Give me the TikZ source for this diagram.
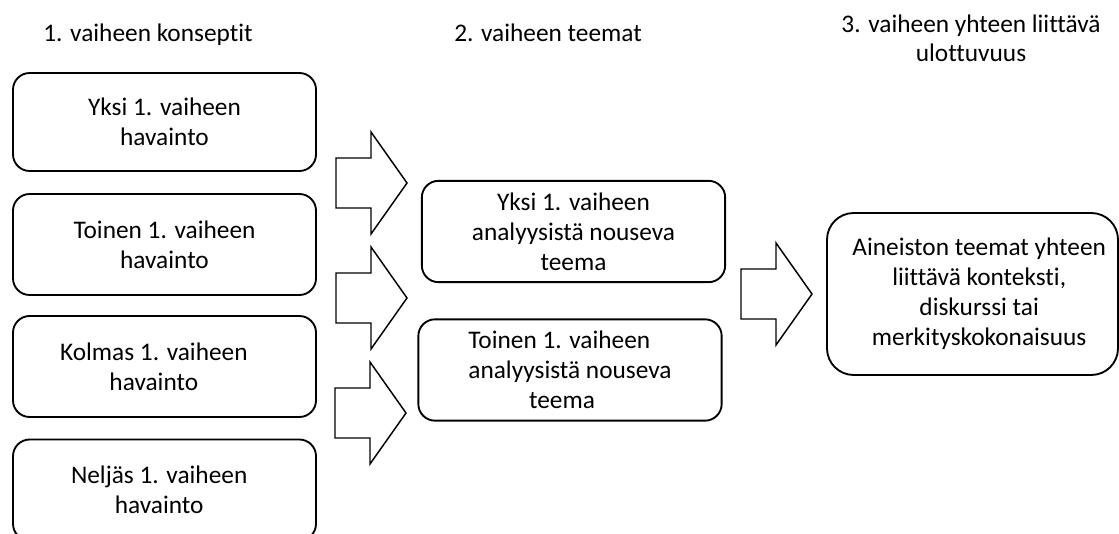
\documentclass[tikz,border=0pt]{standalone}
\usepackage{fontspec}
\setmainfont{Carlito}[Ligatures=NoCommon]
\begin{document}
\begin{tikzpicture}[x=0.75pt,y=-0.75pt,
  boxtext/.style={font=\fontsize{19}{22.5}\selectfont},
  headtext/.style={font=\fontsize{19}{21.75}\selectfont, align=center, inner sep=0pt},
  roundbox/.style={draw, line width=1.4pt, rounded corners=12.5pt, align=center, inner sep=0pt, boxtext},
  leftbox/.style={roundbox, minimum width=227.25pt, minimum height=75.75pt},
  midbox/.style={roundbox, minimum width=227.5pt, minimum height=76pt},
  arrowline/.style={draw, line width=1.1pt, line join=miter},
  blockarrow/.pic={\path[arrowline] (0,-25) -- (35,-25) -- (35,-51) -- (71,0) -- (35,51) -- (35,25) -- (0,25) -- cycle;}
]
\useasboundingbox (0,0) rectangle (1119,534);
\clip (0,0) rectangle (1119,534);

% headers
\node[headtext, anchor=base] (h1) at (148,42) {1. vaiheen konseptit};
\node[headtext, anchor=base] (h2) at (548,42) {2. vaiheen teemat};
\node[headtext, anchor=base] (h3a) at (971,33) {3. vaiheen yhteen liittävä};
\node[headtext, anchor=base] (h3b) at (971,62) {ulottuvuus};

% phase 1 boxes
\node[leftbox, minimum height=73.5pt] (b1) at (164.5,122) {Yksi 1. vaiheen\\havainto};
\node[leftbox] (b2) at (164.5,244.5) {Toinen 1. vaiheen\\havainto};
\node[leftbox] (b3) at (164.5,366.5) {Kolmas 1. vaiheen\hspace*{16pt}\\havainto\hspace*{16pt}};
\node[leftbox] (b4) at (164.5,490) {Neljäs 1. vaiheen\hspace*{8pt}\\havainto\hspace*{8pt}};

% arrows phase 1 -> 2
\pic at (336,183) {blockarrow};
\pic at (336,298) {blockarrow};
\pic at (335,413) {blockarrow};

% phase 2 boxes
\node[midbox] (m1) at (573.5,231.5) {Yksi 1. vaiheen\\analyysistä nouseva\\teema};
\node[midbox] (m2) at (570,370) {Toinen 1. vaiheen\hspace*{16pt}\\analyysistä nouseva\hspace*{16pt}\\teema\hspace*{12pt}};

% arrow phase 2 -> 3
\pic at (741,294) {blockarrow};

% phase 3 box
\node[roundbox, rounded corners=20pt, minimum width=218.25pt, minimum height=121.5pt] (r) at (972.5,294) {\hspace*{10pt}Aineiston teemat yhteen\\\hspace*{10pt}liittävä konteksti,\\\hspace*{10pt}diskurssi tai\\\hspace*{10pt}merkityskokonaisuus};
\end{tikzpicture}
\end{document}
